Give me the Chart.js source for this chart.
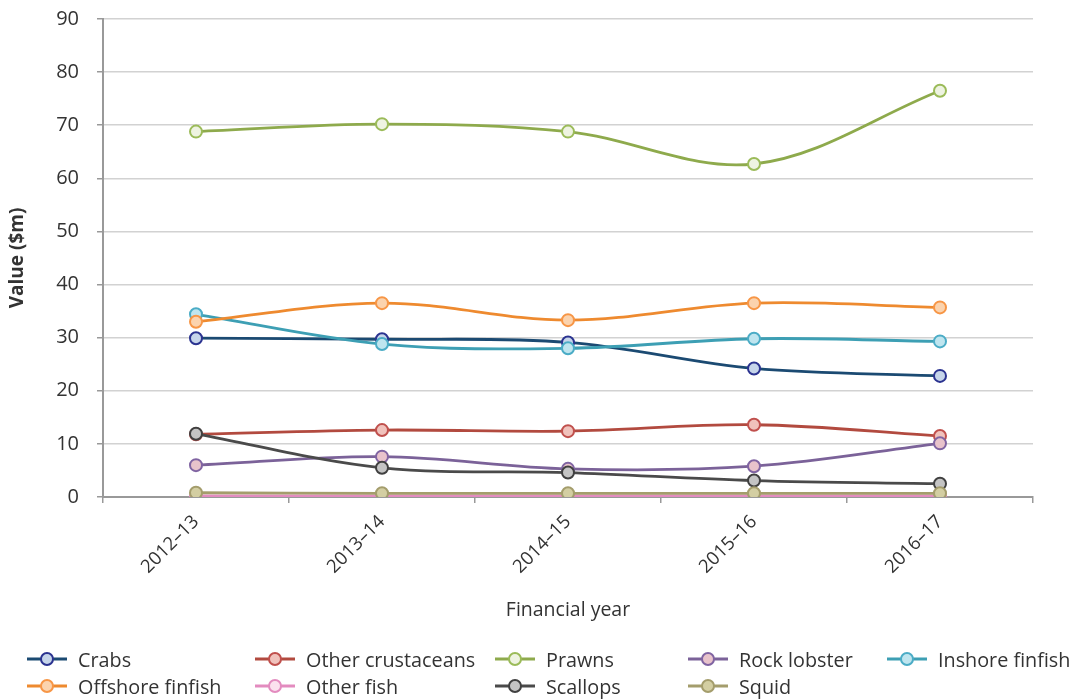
<!DOCTYPE html>
<html>
<head>
<meta charset="utf-8">
<script src="https://cdn.jsdelivr.net/npm/chart.js@4/dist/chart.umd.min.js"></script>
<style>
  body { margin: 0; background: #fff; font-family: "Open Sans", sans-serif; }
  #wrap { position: relative; width: 1082px; height: 699px; overflow: hidden; }
  #chart { position: absolute; left: 0; top: -11px; }
  #legend { position: absolute; left: 0; top: 0; width: 1082px; height: 699px; pointer-events: none; }
  .item { position: absolute; display: flex; align-items: center; font-size: 19.8px; color: #333; height: 26px; white-space: nowrap; }
  .item svg { margin-right: 9px; }
</style>
</head>
<body>
<div id="wrap">
  <canvas id="chart" width="1082" height="647" style="width:1082px;height:647px"></canvas>
  <div id="legend"></div>
</div>
<script>
const years = ["2012–13", "2013–14", "2014–15", "2015–16", "2016–17"];

const crabs = [29.9, 29.7, 29.1, 24.2, 22.8];
const otherCrustaceans = [11.8, 12.6, 12.4, 13.6, 11.5];
const prawns = [68.8, 70.2, 68.8, 62.7, 76.5];
const rockLobster = [6.0, 7.6, 5.3, 5.8, 10.1];
const inshoreFinfish = [34.4, 28.8, 28.0, 29.8, 29.3];
const offshoreFinfish = [33.0, 36.5, 33.3, 36.5, 35.7];
const otherFish = [0.2, 0.2, 0.2, 0.2, 0.2];
const scallops = [11.9, 5.5, 4.6, 3.1, 2.5];
const squid = [0.8, 0.7, 0.7, 0.7, 0.7];

const seriesNames = ["Crabs", "Other crustaceans", "Prawns", "Rock lobster", "Inshore finfish",
                     "Offshore finfish", "Other fish", "Scallops", "Squid"];
const seriesValues = [crabs, otherCrustaceans, prawns, rockLobster, inshoreFinfish,
                      offshoreFinfish, otherFish, scallops, squid];

const lineColors   = ["#1b4a72", "#b24a3f", "#8eaa4c", "#7b6299", "#3d9fb4", "#ee8a2f", "#e38bbf", "#4a4a4a", "#a49d6c"];
const markerEdges  = ["#2b3390", "#c0504d", "#9bbb59", "#8064a2", "#4bacc6", "#f79646", "#e38bbf", "#404040", "#a49d6c"];
const markerFills  = ["#c6d5ea", "#f0c2bc", "#eef3e1", "#e8c3cb", "#bfe5ef", "#fbd3ae", "#fbe1ee", "#c4c4c4", "#d3cea2"];

// legend grid: [left, top] of each entry
const legendSlots = [[27, 646], [255, 646], [495, 646], [688, 646], [887, 646],
                     [27, 673], [255, 673], [495, 673], [688, 673]];

const datasets = seriesNames.map((name, i) => ({
  label: name,
  data: seriesValues[i],
  borderColor: lineColors[i],
  backgroundColor: markerFills[i],
  pointBackgroundColor: markerFills[i],
  pointBorderColor: markerEdges[i],
  pointBorderWidth: 2,
  pointRadius: 6,
  borderWidth: 2.8,
  tension: 0.35,
  fill: false,
  order: seriesNames.length - i
}));

new Chart(document.getElementById("chart"), {
  type: "line",
  data: { labels: years, datasets: datasets },
  options: {
    responsive: false,
    animation: false,
    layout: { padding: { top: 6, right: 49, left: 0, bottom: 0 } },
    plugins: { legend: { display: false }, tooltip: { enabled: false } },
    scales: {
      x: {
        offset: true,
        grid: { drawOnChartArea: false, offset: true, tickLength: 6, tickColor: "#999", lineWidth: 1.5 },
        border: { color: "#999", width: 2 },
        ticks: { color: "#333", font: { family: "Open Sans", size: 18.5 }, minRotation: 45, maxRotation: 45, padding: 8 },
        title: { display: true, text: "Financial year", color: "#333", font: { family: "Open Sans", size: 19.5 }, padding: { top: 0, bottom: 14 } },
        afterFit(scale) { scale.height = 139; }
      },
      y: {
        min: 0,
        max: 90,
        ticks: { stepSize: 10, color: "#333", font: { family: "Open Sans", size: 20 }, padding: 18 },
        grid: { color: "#d2d2d2", lineWidth: 1.5, tickColor: "#999", tickLength: 6 },
        border: { color: "#999", width: 2 },
        title: { display: true, text: "Value ($m)", color: "#333", font: { family: "Open Sans", size: 19, weight: "bold" }, padding: { top: 6, bottom: 0 } },
        afterFit(scale) { scale.width = 103; }
      }
    }
  }
});

// legend built from the same series arrays
const legend = document.getElementById("legend");
seriesNames.forEach((name, i) => {
  const el = document.createElement("div");
  el.className = "item";
  el.style.left = legendSlots[i][0] + "px";
  el.style.top = legendSlots[i][1] + "px";
  el.innerHTML =
    '<svg width="42" height="16"><line x1="0" y1="8" x2="40" y2="8" stroke="' + lineColors[i] + '" stroke-width="2.8"/>' +
    '<circle cx="20" cy="8" r="6" fill="' + markerFills[i] + '" stroke="' + markerEdges[i] + '" stroke-width="2"/></svg>' +
    '<span>' + name + '</span>';
  legend.appendChild(el);
});
</script>
</body>
</html>
